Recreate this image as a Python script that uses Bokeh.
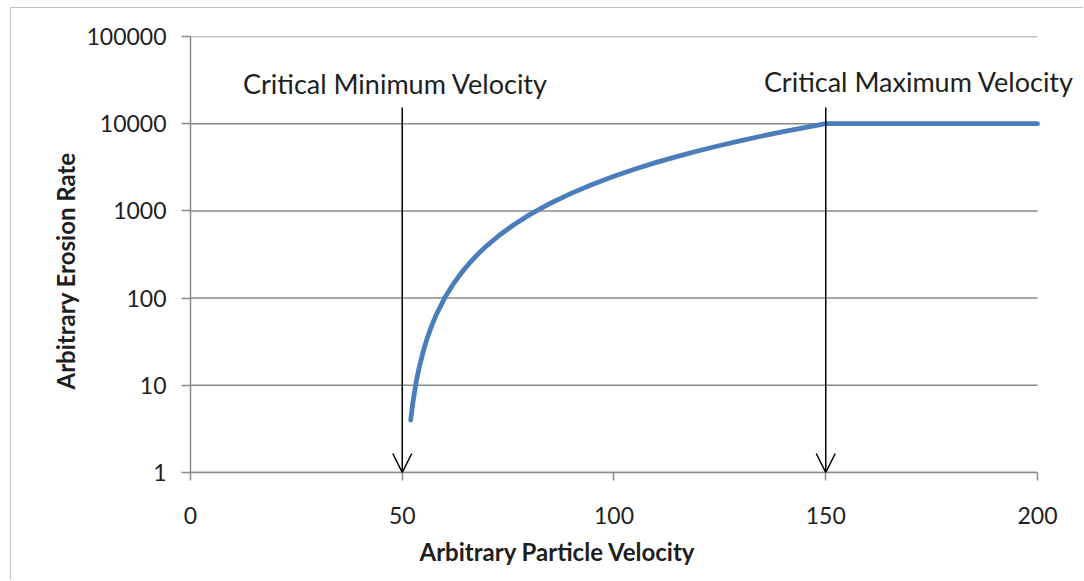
from bokeh.plotting import figure
from bokeh.models import Range1d, FixedTicker, NumeralTickFormatter, Arrow, OpenHead, Label, Title
from bokeh.embed import file_html
from bokeh.resources import INLINE

# data
velocity = [52, 52.5, 53, 53.5, 54, 55, 56, 57, 58, 60, 62, 64, 66, 68, 70, 73, 76, 80,
            85, 90, 95, 100, 105, 110, 115, 120, 125, 130, 135, 140, 145, 150, 200]
erosion = [4, 6.3, 9, 12.3, 16, 25, 36, 49, 64, 100, 144, 196, 256, 324, 400, 529, 676, 900,
           1225, 1600, 2025, 2500, 3025, 3600, 4225, 4900, 5625, 6400, 7225, 8100, 9025, 10000, 10000]
x_ticks = [0, 50, 100, 150, 200]
y_ticks = [1, 10, 100, 1000, 10000, 100000]
arrow_x = [50, 150]
arrow_top = [15350, 15350]
arrow_bottom = [1, 1]
label_texts = ["Critical Minimum Velocity", "Critical Maximum Velocity"]
label_x = [48.4, 172]
label_y = [28900, 30500]
x_title = "Arbitrary Particle Velocity"
y_title = "Arbitrary Erosion  Rate"

FONT = "Lato"
GRAY = "#8a8a8a"
TXT = "#1e1e1e"
X_END = 211.1  # view extends past 200 so the right-hand label is not clipped

p = figure(width=1073, height=573, output_backend="svg", toolbar_location=None,
           y_axis_type="log", x_range=Range1d(0, X_END), y_range=Range1d(1, 100000),
           min_border_left=179, min_border_right=0, min_border_top=28, min_border_bottom=109)
p.styles = {"margin-left": "10px", "margin-top": "7px",
            "border-left": "1px solid #c4c4c4", "border-top": "1px solid #c4c4c4"}
p.outline_line_color = None
p.background_fill_color = "white"
p.border_fill_color = "white"

p.xgrid.grid_line_color = None
p.ygrid.grid_line_color = None

p.xaxis.ticker = FixedTicker(ticks=x_ticks)
p.xaxis.bounds = (x_ticks[0], x_ticks[-1])
p.yaxis.ticker = FixedTicker(ticks=y_ticks)
p.yaxis.formatter = NumeralTickFormatter(format="0")
for ax in (p.xaxis[0], p.yaxis[0]):
    ax.axis_line_color = GRAY
    ax.axis_line_width = 1.5
    ax.major_tick_line_color = GRAY
    ax.major_tick_line_width = 1.5
    ax.major_tick_in = 0
    ax.minor_tick_line_color = None
    ax.major_label_text_font = FONT
    ax.major_label_text_font_size = "23px"
    ax.major_label_text_color = TXT

p.xaxis.major_tick_out = 8
p.xaxis.major_label_standoff = 26
p.yaxis.major_tick_out = 9
p.yaxis.major_label_standoff = 15

# horizontal grid lines from 0 to 200
p.segment(x0=[x_ticks[0]] * len(y_ticks), x1=[x_ticks[-1]] * len(y_ticks),
          y0=y_ticks, y1=y_ticks, line_color=GRAY, line_width=1.5)

p.line(velocity, erosion, line_color="#4a7ebb", line_width=4.8, line_cap="round", line_join="round")

for i in range(len(arrow_x)):
    p.add_layout(Arrow(end=OpenHead(size=19, line_width=1.5, line_color="black"),
                       x_start=arrow_x[i], y_start=arrow_top[i],
                       x_end=arrow_x[i], y_end=arrow_bottom[i],
                       line_color="black", line_width=1.5))
    p.add_layout(Label(x=label_x[i], y=label_y[i], text=label_texts[i],
                       text_align="center", text_baseline="middle",
                       text_font=FONT, text_font_size="27px", text_color=TXT))

p.add_layout(Title(text=y_title, align="left", offset=83, standoff=8,
                   text_font=FONT, text_font_style="bold", text_font_size="24px",
                   text_color=TXT), "left")
p.add_layout(Title(text=x_title, align="left", offset=229, standoff=16,
                   text_font=FONT, text_font_style="bold", text_font_size="24px",
                   text_color=TXT), "below")

open("out.html", "w").write(file_html(p, INLINE))
